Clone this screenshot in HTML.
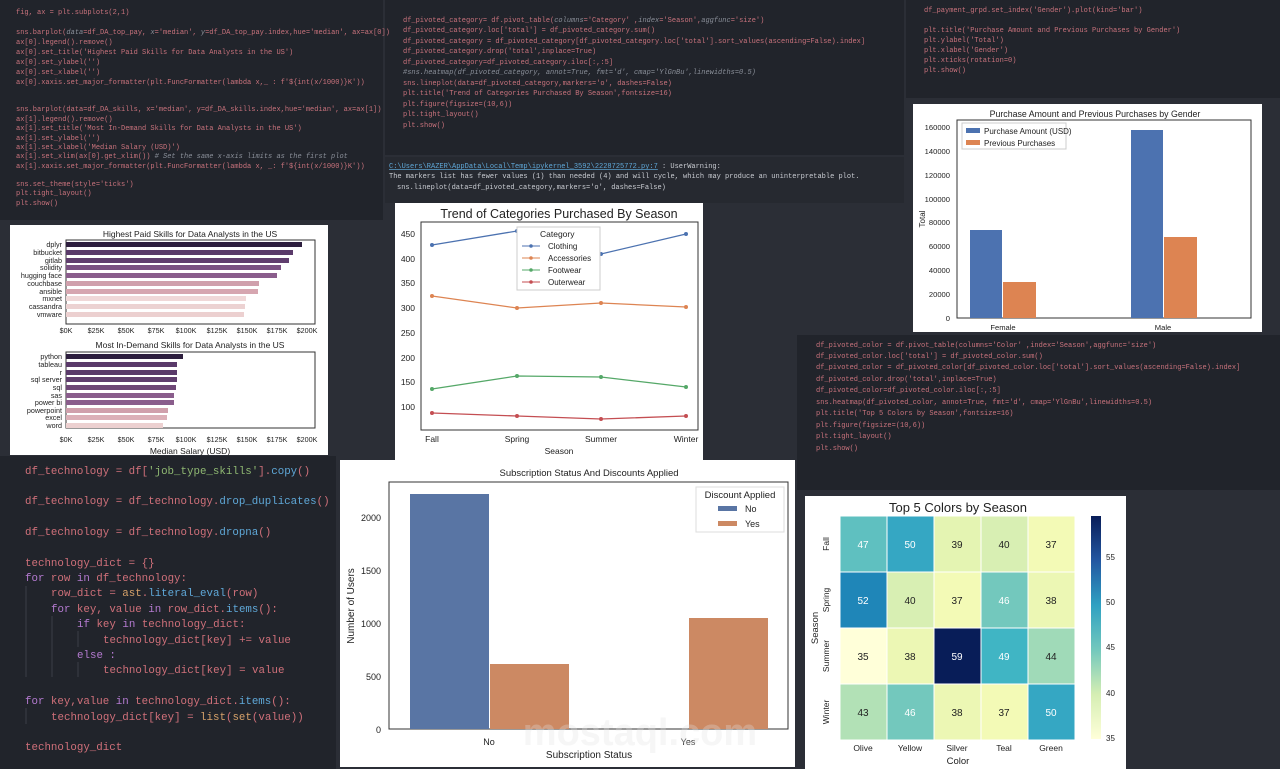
<!DOCTYPE html>
<html><head><meta charset="utf-8"><style>
html,body{margin:0;padding:0;background:#2b2e36;width:1280px;height:769px;overflow:hidden}
svg{display:block}
.c{font-family:"Liberation Mono",monospace;font-size:7px;fill:#c8727c}
.b{fill:#5fa8d8}.w{fill:#c9ccd2}.g{fill:#8fb872}.i{fill:#8a8f99;font-style:italic}.o{fill:#d7a26a}
.big{font-family:"Liberation Mono",monospace;font-size:10.8px;fill:#d0707a}
.s{font-family:"Liberation Sans",sans-serif;fill:#222}
</style></head><body>
<svg width="1280" height="769" viewBox="0 0 1280 769" xmlns="http://www.w3.org/2000/svg">
<rect width="1280" height="769" fill="#2b2e36"/>
<rect x="0" y="0" width="383" height="220" fill="#21242b"/>
<rect x="385" y="0" width="519" height="155" fill="#21242b"/>
<rect x="385" y="157" width="519" height="46" fill="#262930"/>
<rect x="906" y="0" width="374" height="98" fill="#21242b"/>
<rect x="797" y="335" width="483" height="155" fill="#21242b"/>
<rect x="0" y="456" width="336" height="313" fill="#21242b"/>

<g class="c">
<text x="16" y="14">fig, ax = plt.subplots(2,1)</text>
<text x="16" y="34">sns.barplot(<tspan class="i">data</tspan>=df_DA_top_pay, <tspan class="i">x</tspan>='median', <tspan class="i">y</tspan>=df_DA_top_pay.index,hue='median', ax=ax[0])</text>
<text x="16" y="44">ax[0].legend().remove()</text>
<text x="16" y="54">ax[0].set_title('Highest Paid Skills for Data Analysts in the US')</text>
<text x="16" y="64">ax[0].set_ylabel('')</text>
<text x="16" y="74">ax[0].set_xlabel('')</text>
<text x="16" y="84">ax[0].xaxis.set_major_formatter(plt.FuncFormatter(lambda x,_ : f'${int(x/1000)}K'))</text>
<text x="16" y="111">sns.barplot(data=df_DA_skills, x='median', y=df_DA_skills.index,hue='median', ax=ax[1])</text>
<text x="16" y="121">ax[1].legend().remove()</text>
<text x="16" y="130">ax[1].set_title('Most In-Demand Skills for Data Analysts in the US')</text>
<text x="16" y="140">ax[1].set_ylabel('')</text>
<text x="16" y="149">ax[1].set_xlabel('Median Salary (USD)')</text>
<text x="16" y="158">ax[1].set_xlim(ax[0].get_xlim()) <tspan class="i"># Set the same x-axis limits as the first plot</tspan></text>
<text x="16" y="168">ax[1].xaxis.set_major_formatter(plt.FuncFormatter(lambda x, _: f'${int(x/1000)}K'))</text>
<text x="16" y="186">sns.set_theme(style='ticks')</text>
<text x="16" y="195">plt.tight_layout()</text>
<text x="16" y="205">plt.show()</text>

<text x="403" y="22">df_pivoted_category= df.pivot_table(<tspan class="i">columns</tspan>='Category' ,<tspan class="i">index</tspan>='Season',<tspan class="i">aggfunc</tspan>='size')</text>
<text x="403" y="32">df_pivoted_category.loc['total'] = df_pivoted_category.sum()</text>
<text x="403" y="43">df_pivoted_category = df_pivoted_category[df_pivoted_category.loc['total'].sort_values(ascending=False).index]</text>
<text x="403" y="53">df_pivoted_category.drop('total',inplace=True)</text>
<text x="403" y="64">df_pivoted_category=df_pivoted_category.iloc[:,:5]</text>
<text x="403" y="74" class="i">#sns.heatmap(df_pivoted_category, annot=True, fmt='d', cmap='YlGnBu',linewidths=0.5)</text>
<text x="403" y="85">sns.lineplot(data=df_pivoted_category,markers='o', dashes=False)</text>
<text x="403" y="95">plt.title('Trend of Categories Purchased By Season',fontsize=16)</text>
<text x="403" y="106">plt.figure(figsize=(10,6))</text>
<text x="403" y="116">plt.tight_layout()</text>
<text x="403" y="127">plt.show()</text>
<text x="389" y="168" class="b" text-decoration="underline">C:\Users\RAZER\AppData\Local\Temp\ipykernel_3592\2228725772.py:7</text><text x="662" y="168" class="w">: UserWarning:</text>
<text x="389" y="178" class="w">The markers list has fewer values (1) than needed (4) and will cycle, which may produce an uninterpretable plot.</text>
<text x="397" y="189" class="w">sns.lineplot(data=df_pivoted_category,markers='o', dashes=False)</text>

<text x="924" y="12">df_payment_grpd.set_index('Gender').plot(kind='bar')</text>
<text x="924" y="32">plt.title('Purchase Amount and Previous Purchases by Gender')</text>
<text x="924" y="42">plt.ylabel('Total')</text>
<text x="924" y="52">plt.xlabel('Gender')</text>
<text x="924" y="62">plt.xticks(rotation=0)</text>
<text x="924" y="72">plt.show()</text>

<text x="816" y="347">df_pivoted_color = df.pivot_table(columns='Color' ,index='Season',aggfunc='size')</text>
<text x="816" y="358">df_pivoted_color.loc['total'] = df_pivoted_color.sum()</text>
<text x="816" y="369">df_pivoted_color = df_pivoted_color[df_pivoted_color.loc['total'].sort_values(ascending=False).index]</text>
<text x="816" y="381">df_pivoted_color.drop('total',inplace=True)</text>
<text x="816" y="392">df_pivoted_color=df_pivoted_color.iloc[:,:5]</text>
<text x="816" y="404">sns.heatmap(df_pivoted_color, annot=True, fmt='d', cmap='YlGnBu',linewidths=0.5)</text>
<text x="816" y="415">plt.title('Top 5 Colors by Season',fontsize=16)</text>
<text x="816" y="427">plt.figure(figsize=(10,6))</text>
<text x="816" y="438">plt.tight_layout()</text>
<text x="816" y="450">plt.show()</text>
</g>

<g class="big">
<text x="25" y="474">df_technology = df[<tspan class="g">'job_type_skills'</tspan>].<tspan class="b">copy</tspan>()</text>
<text x="25" y="504">df_technology = df_technology.<tspan class="b">drop_duplicates</tspan>()</text>
<text x="25" y="535">df_technology = df_technology.<tspan class="b">dropna</tspan>()</text>
<text x="25" y="566">technology_dict = {}</text>
<text x="25" y="581"><tspan fill="#b47ad0">for</tspan> row <tspan fill="#b47ad0">in</tspan> df_technology:</text>
<text x="51" y="596">row_dict = <tspan class="o">ast</tspan>.<tspan class="b">literal_eval</tspan>(row)</text>
<text x="51" y="612"><tspan fill="#b47ad0">for</tspan> key, value <tspan fill="#b47ad0">in</tspan> row_dict.<tspan class="b">items</tspan>():</text>
<text x="77" y="627"><tspan fill="#b47ad0">if</tspan> key <tspan fill="#b47ad0">in</tspan> technology_dict:</text>
<text x="103" y="643">technology_dict[key] += value</text>
<text x="77" y="658" fill="#b47ad0">else :</text>
<text x="103" y="673">technology_dict[key] = value</text>
<text x="25" y="704"><tspan fill="#b47ad0">for</tspan> key,value <tspan fill="#b47ad0">in</tspan> technology_dict.<tspan class="b">items</tspan>():</text>
<text x="51" y="720">technology_dict[key] = <tspan class="o">list</tspan>(<tspan class="o">set</tspan>(value))</text>
<text x="25" y="750">technology_dict</text>
</g>
<g stroke="#3a3e47" stroke-width="1">
<line x1="26" y1="586" x2="26" y2="677"/><line x1="52" y1="616" x2="52" y2="677"/><line x1="78" y1="631" x2="78" y2="647"/><line x1="78" y1="662" x2="78" y2="677"/><line x1="26" y1="708" x2="26" y2="724"/>
</g>

<!-- Skills chart -->
<rect x="10" y="225" width="318" height="230" fill="#fff"/>
<g class="s" font-size="8.5" text-anchor="middle">
<text x="190" y="237">Highest Paid Skills for Data Analysts in the US</text>
<text x="190" y="348">Most In-Demand Skills for Data Analysts in the US</text>
<text x="190" y="454">Median Salary (USD)</text>
</g>
<g>
<rect x="66" y="240" width="249" height="84" fill="none" stroke="#333" stroke-width="1"/>
<rect x="66" y="242" width="236" height="5" fill="#2d1e3e"/>
<rect x="66" y="250" width="227" height="5" fill="#5a3a6a"/>
<rect x="66" y="258" width="223" height="5" fill="#603e6e"/>
<rect x="66" y="265" width="215" height="5" fill="#7a5182"/>
<rect x="66" y="273" width="211" height="5" fill="#8a5d8c"/>
<rect x="66" y="281" width="193" height="5" fill="#d0a0ac"/>
<rect x="66" y="289" width="192" height="5" fill="#d6a6b0"/>
<rect x="66" y="296" width="180" height="5" fill="#f0d8d8"/>
<rect x="66" y="304" width="179" height="5" fill="#ecd2d2"/>
<rect x="66" y="312" width="178" height="5" fill="#ecd0d0"/>
<rect x="66" y="352" width="249" height="76" fill="none" stroke="#333"/>
<rect x="66" y="354" width="117" height="5" fill="#2d1e3e"/>
<rect x="66" y="362" width="111" height="5" fill="#5a3a6a"/>
<rect x="66" y="370" width="111" height="5" fill="#5a3a6a"/>
<rect x="66" y="377" width="111" height="5" fill="#603e6e"/>
<rect x="66" y="385" width="110" height="5" fill="#6e4776"/>
<rect x="66" y="393" width="108" height="5" fill="#8a5d8c"/>
<rect x="66" y="400" width="108" height="5" fill="#8a5d8c"/>
<rect x="66" y="408" width="102" height="5" fill="#d0a0ac"/>
<rect x="66" y="415" width="101" height="5" fill="#dcb0b8"/>
<rect x="66" y="423" width="97" height="5" fill="#ecd0d0"/>
</g>
<g class="s" font-size="7.2" text-anchor="end">
<text x="62" y="247">dplyr</text><text x="62" y="255">bitbucket</text><text x="62" y="263">gitlab</text><text x="62" y="270">solidity</text><text x="62" y="278">hugging face</text><text x="62" y="286">couchbase</text><text x="62" y="294">ansible</text><text x="62" y="301">mxnet</text><text x="62" y="309">cassandra</text><text x="62" y="317">vmware</text>
<text x="62" y="359">python</text><text x="62" y="367">tableau</text><text x="62" y="375">r</text><text x="62" y="382">sql server</text><text x="62" y="390">sql</text><text x="62" y="398">sas</text><text x="62" y="405">power bi</text><text x="62" y="413">powerpoint</text><text x="62" y="420">excel</text><text x="62" y="428">word</text>
</g>
<g class="s" font-size="7.2" text-anchor="middle">
<text x="66" y="333">$0K</text><text x="96" y="333">$25K</text><text x="126" y="333">$50K</text><text x="156" y="333">$75K</text><text x="186" y="333">$100K</text><text x="217" y="333">$125K</text><text x="247" y="333">$150K</text><text x="277" y="333">$175K</text><text x="307" y="333">$200K</text>
<text x="66" y="442">$0K</text><text x="96" y="442">$25K</text><text x="126" y="442">$50K</text><text x="156" y="442">$75K</text><text x="186" y="442">$100K</text><text x="217" y="442">$125K</text><text x="247" y="442">$150K</text><text x="277" y="442">$175K</text><text x="307" y="442">$200K</text>
</g>

<!-- Trend chart -->
<rect x="395" y="203" width="308" height="257" fill="#fff"/>
<text class="s" x="559" y="218" font-size="12.5" text-anchor="middle">Trend of Categories Purchased By Season</text>
<rect x="421" y="222" width="277" height="208" fill="none" stroke="#333"/>
<g class="s" font-size="8.5" text-anchor="end">
<text x="415" y="237">450</text><text x="415" y="262">400</text><text x="415" y="286">350</text><text x="415" y="311">300</text><text x="415" y="336">250</text><text x="415" y="361">200</text><text x="415" y="385">150</text><text x="415" y="410">100</text>
</g>
<g class="s" font-size="8.5" text-anchor="middle">
<text x="432" y="442">Fall</text><text x="517" y="442">Spring</text><text x="601" y="442">Summer</text><text x="686" y="442">Winter</text>
<text x="559" y="454">Season</text>
</g>
<g fill="none" stroke-width="1.3">
<polyline points="432,245 517,231 601,254 686,234" stroke="#4c72b0"/>
<polyline points="432,296 517,308 601,303 686,307" stroke="#dd8452"/>
<polyline points="432,389 517,376 601,377 686,387" stroke="#55a868"/>
<polyline points="432,413 517,416 601,419 686,416" stroke="#c44e52"/>
</g>
<g>
<circle cx="432" cy="245" r="2" fill="#4c72b0"/><circle cx="517" cy="231" r="2" fill="#4c72b0"/><circle cx="601" cy="254" r="2" fill="#4c72b0"/><circle cx="686" cy="234" r="2" fill="#4c72b0"/>
<circle cx="432" cy="296" r="2" fill="#dd8452"/><circle cx="517" cy="308" r="2" fill="#dd8452"/><circle cx="601" cy="303" r="2" fill="#dd8452"/><circle cx="686" cy="307" r="2" fill="#dd8452"/>
<circle cx="432" cy="389" r="2" fill="#55a868"/><circle cx="517" cy="376" r="2" fill="#55a868"/><circle cx="601" cy="377" r="2" fill="#55a868"/><circle cx="686" cy="387" r="2" fill="#55a868"/>
<circle cx="432" cy="413" r="2" fill="#c44e52"/><circle cx="517" cy="416" r="2" fill="#c44e52"/><circle cx="601" cy="419" r="2" fill="#c44e52"/><circle cx="686" cy="416" r="2" fill="#c44e52"/>
</g>
<rect x="517" y="227" width="83" height="63" fill="#fff" stroke="#ccc"/>
<g class="s" font-size="8">
<text x="540" y="237" font-size="8.5">Category</text>
<line x1="522" y1="246" x2="540" y2="246" stroke="#4c72b0"/><circle cx="531" cy="246" r="1.8" fill="#4c72b0"/><text x="548" y="249">Clothing</text>
<line x1="522" y1="258" x2="540" y2="258" stroke="#dd8452"/><circle cx="531" cy="258" r="1.8" fill="#dd8452"/><text x="548" y="261">Accessories</text>
<line x1="522" y1="270" x2="540" y2="270" stroke="#55a868"/><circle cx="531" cy="270" r="1.8" fill="#55a868"/><text x="548" y="273">Footwear</text>
<line x1="522" y1="282" x2="540" y2="282" stroke="#c44e52"/><circle cx="531" cy="282" r="1.8" fill="#c44e52"/><text x="548" y="285">Outerwear</text>
</g>

<!-- Gender chart -->
<rect x="913" y="104" width="349" height="228" fill="#fff"/>
<text class="s" x="1095" y="117" font-size="8.8" text-anchor="middle">Purchase Amount and Previous Purchases by Gender</text>
<rect x="957" y="120" width="294" height="198" fill="none" stroke="#333"/>
<rect x="970" y="230" width="32" height="88" fill="#4c72b0"/>
<rect x="1003" y="282" width="33" height="36" fill="#dd8452"/>
<rect x="1131" y="130" width="32" height="188" fill="#4c72b0"/>
<rect x="1164" y="237" width="33" height="81" fill="#dd8452"/>
<g class="s" font-size="7.6" text-anchor="end">
<text x="950" y="321">0</text><text x="950" y="297">20000</text><text x="950" y="273">40000</text><text x="950" y="249">60000</text><text x="950" y="225">80000</text><text x="950" y="202">100000</text><text x="950" y="178">120000</text><text x="950" y="154">140000</text><text x="950" y="130">160000</text>
</g>
<text class="s" font-size="8" transform="translate(925,219) rotate(-90)" text-anchor="middle">Total</text>
<g class="s" font-size="7.6" text-anchor="middle"><text x="1003" y="330">Female</text><text x="1163" y="330">Male</text></g>
<rect x="962" y="123" width="104" height="26" fill="#fff" stroke="#ccc"/>
<rect x="966" y="128" width="14" height="5" fill="#4c72b0"/><text class="s" x="984" y="134" font-size="8">Purchase Amount (USD)</text>
<rect x="966" y="140" width="14" height="5" fill="#dd8452"/><text class="s" x="984" y="146" font-size="8">Previous Purchases</text>

<!-- Subscription chart -->
<rect x="340" y="460" width="455" height="307" fill="#fff"/>
<text class="s" x="589" y="476" font-size="9.5" text-anchor="middle">Subscription Status And Discounts Applied</text>
<rect x="389" y="482" width="399" height="247" fill="none" stroke="#333"/>
<rect x="410" y="494" width="79" height="235" fill="#5975a4"/>
<rect x="490" y="664" width="79" height="65" fill="#cc8963"/>
<rect x="689" y="618" width="79" height="111" fill="#cc8963"/>
<g class="s" font-size="9" text-anchor="end">
<text x="381" y="733">0</text><text x="381" y="680">500</text><text x="381" y="627">1000</text><text x="381" y="574">1500</text><text x="381" y="521">2000</text>
</g>
<text class="s" font-size="10" transform="translate(354,606) rotate(-90)" text-anchor="middle">Number of Users</text>
<g class="s" font-size="9" text-anchor="middle"><text x="489" y="745">No</text><text x="688" y="745">Yes</text><text x="589" y="758" font-size="10">Subscription Status</text></g>
<rect x="696" y="487" width="88" height="45" fill="#fff" stroke="#ddd"/>
<text class="s" x="740" y="498" font-size="9.5" text-anchor="middle">Discount Applied</text>
<rect x="718" y="506" width="19" height="5" fill="#5975a4"/><text class="s" x="745" y="512" font-size="9">No</text>
<rect x="718" y="521" width="19" height="5" fill="#cc8963"/><text class="s" x="745" y="527" font-size="9">Yes</text>

<!-- Heatmap -->
<rect x="805" y="496" width="321" height="273" fill="#fff"/>
<text class="s" x="958" y="512" font-size="13" text-anchor="middle">Top 5 Colors by Season</text>
<g stroke="#fff" stroke-width="1">
<rect x="840" y="516" width="47" height="56" fill="#5fc0c0"/><rect x="887" y="516" width="47" height="56" fill="#35a7c3"/><rect x="934" y="516" width="47" height="56" fill="#e4f4b2"/><rect x="981" y="516" width="47" height="56" fill="#d8efb3"/><rect x="1028" y="516" width="47" height="56" fill="#f3fab6"/>
<rect x="840" y="572" width="47" height="56" fill="#1f86b8"/><rect x="887" y="572" width="47" height="56" fill="#d8efb3"/><rect x="934" y="572" width="47" height="56" fill="#f3fab6"/><rect x="981" y="572" width="47" height="56" fill="#73c8bd"/><rect x="1028" y="572" width="47" height="56" fill="#ecf7b4"/>
<rect x="840" y="628" width="47" height="56" fill="#ffffd9"/><rect x="887" y="628" width="47" height="56" fill="#ecf7b4"/><rect x="934" y="628" width="47" height="56" fill="#081d58"/><rect x="981" y="628" width="47" height="56" fill="#40b5c4"/><rect x="1028" y="628" width="47" height="56" fill="#a0dab8"/>
<rect x="840" y="684" width="47" height="56" fill="#b2e1b6"/><rect x="887" y="684" width="47" height="56" fill="#73c8bd"/><rect x="934" y="684" width="47" height="56" fill="#ecf7b4"/><rect x="981" y="684" width="47" height="56" fill="#f3fab6"/><rect x="1028" y="684" width="47" height="56" fill="#35a7c3"/>
</g>
<g class="s" font-size="10" text-anchor="middle">
<text x="863" y="548" fill="#fff">47</text><text x="910" y="548" fill="#fff">50</text><text x="957" y="548">39</text><text x="1004" y="548">40</text><text x="1051" y="548">37</text>
<text x="863" y="604" fill="#fff">52</text><text x="910" y="604">40</text><text x="957" y="604">37</text><text x="1004" y="604" fill="#fff">46</text><text x="1051" y="604">38</text>
<text x="863" y="660">35</text><text x="910" y="660">38</text><text x="957" y="660" fill="#fff">59</text><text x="1004" y="660" fill="#fff">49</text><text x="1051" y="660">44</text>
<text x="863" y="716">43</text><text x="910" y="716" fill="#fff">46</text><text x="957" y="716">38</text><text x="1004" y="716">37</text><text x="1051" y="716" fill="#fff">50</text>
</g>
<g class="s" font-size="8.5" text-anchor="middle">
<text x="863" y="751">Olive</text><text x="910" y="751">Yellow</text><text x="957" y="751">Silver</text><text x="1004" y="751">Teal</text><text x="1051" y="751">Green</text>
<text x="958" y="764" font-size="9.5">Color</text>
<text transform="translate(829,544) rotate(-90)">Fall</text>
<text transform="translate(829,600) rotate(-90)">Spring</text>
<text transform="translate(829,656) rotate(-90)">Summer</text>
<text transform="translate(829,712) rotate(-90)">Winter</text>
<text transform="translate(818,628) rotate(-90)" font-size="9.5">Season</text>
</g>
<defs><linearGradient id="cb" x1="0" y1="1" x2="0" y2="0">
<stop offset="0" stop-color="#ffffd9"/><stop offset="0.2" stop-color="#d5eeb3"/><stop offset="0.4" stop-color="#73c8bd"/><stop offset="0.6" stop-color="#2fa1c2"/><stop offset="0.8" stop-color="#2357a1"/><stop offset="1" stop-color="#081d58"/>
</linearGradient></defs>
<rect x="1091" y="516" width="10" height="223" fill="url(#cb)"/>
<g class="s" font-size="8">
<text x="1106" y="741">35</text><text x="1106" y="696">40</text><text x="1106" y="650">45</text><text x="1106" y="605">50</text><text x="1106" y="560">55</text>
</g>

<!-- watermark -->
<text x="640" y="745" font-family="Liberation Sans,sans-serif" font-size="38" font-weight="bold" fill="#e0e0e0" fill-opacity="0.3" text-anchor="middle">mostaql.com</text>
</svg>
</body></html>
